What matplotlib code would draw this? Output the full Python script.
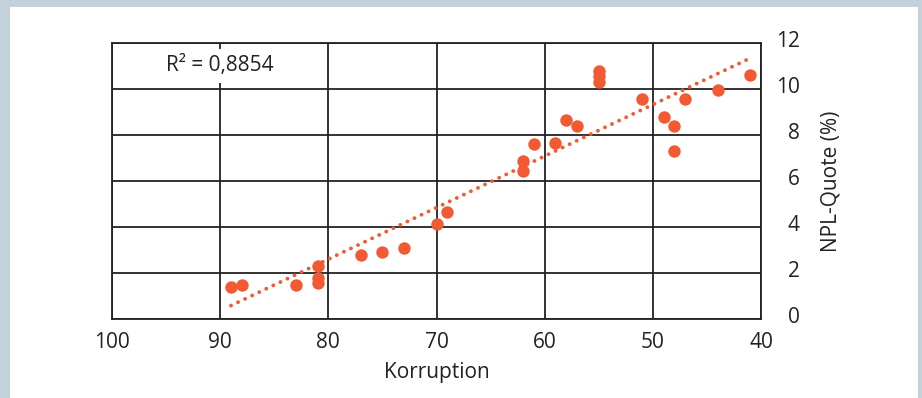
import numpy as np
import matplotlib
matplotlib.use("Agg")
import matplotlib.pyplot as plt
import matplotlib.transforms as mtransforms
from matplotlib.patches import Rectangle

# Korruption index (x) and NPL ratio in % (y)
korruption = [89, 88, 83, 81, 81, 81, 77, 75, 73, 70, 69,
              62, 62, 61, 59, 58, 57, 55, 55, 55,
              51, 49, 48, 48, 47, 44, 41]
npl_quote = [1.4, 1.5, 1.5, 2.3, 1.8, 1.55, 2.8, 2.9, 3.1, 4.15, 4.65,
             6.85, 6.45, 7.6, 7.65, 8.65, 8.4, 10.8, 10.55, 10.3,
             9.55, 8.8, 8.4, 7.3, 9.55, 9.95, 10.6]
r2_text = "R² = 0,8854"

plt.rcParams["font.family"] = ["Open Sans", "DejaVu Sans"]

fig = plt.figure(figsize=(9.22, 3.98), dpi=100)
fig.patch.set_facecolor("#c3d1db")
fig.patches.append(Rectangle((10 / 922, 0), 908 / 922, 391 / 398,
                             transform=fig.transFigure, facecolor="white",
                             edgecolor="none", zorder=-10))

ax = fig.add_axes([112 / 922, 79 / 398, 649 / 922, 276 / 398])
ax.set_facecolor("white")

dot_color = "#f15a32"
ax.scatter(korruption, npl_quote, s=80, color=dot_color, zorder=3, linewidths=0)

# linear trend line
coef = np.polyfit(korruption, npl_quote, 1)
xs = np.array([max(korruption), min(korruption)])
ax.plot(xs, np.polyval(coef, xs), color=dot_color, lw=2.8,
        linestyle=(0, (0.01, 2.0)), dash_capstyle="round", zorder=2)

ax.set_xlim(100, 40)
ax.set_ylim(0, 12)
ax.set_xticks(range(100, 39, -10))
ax.set_yticks(range(0, 13, 2))
ax.grid(True, color="#222222", lw=1.3)
ax.set_axisbelow(True)
for sp in ax.spines.values():
    sp.set_color("#222222")
    sp.set_linewidth(1.3)

fs = 15
ax.yaxis.tick_right()
ax.yaxis.set_label_position("right")
ax.tick_params(axis="both", length=0, labelsize=fs, colors="#222222")
ax.tick_params(axis="y", pad=28)
ax.tick_params(axis="x", pad=9.5)
shift = mtransforms.ScaledTranslation(0, 4 / 100, fig.dpi_scale_trans)
for lab in ax.get_yticklabels():
    lab.set_ha("right")
    lab.set_transform(lab.get_transform() + shift)

ax.set_xlabel("Korruption", fontsize=fs, color="#222222", labelpad=6)
ax.set_ylabel("NPL-Quote (%)", fontsize=fs, color="#222222", labelpad=15)

ax.text(90, 11, r2_text, ha="center", va="center", fontsize=fs,
        color="#222222", zorder=4,
        bbox=dict(facecolor="white", edgecolor="none", pad=5))

fig.savefig("out.png", dpi=100)
